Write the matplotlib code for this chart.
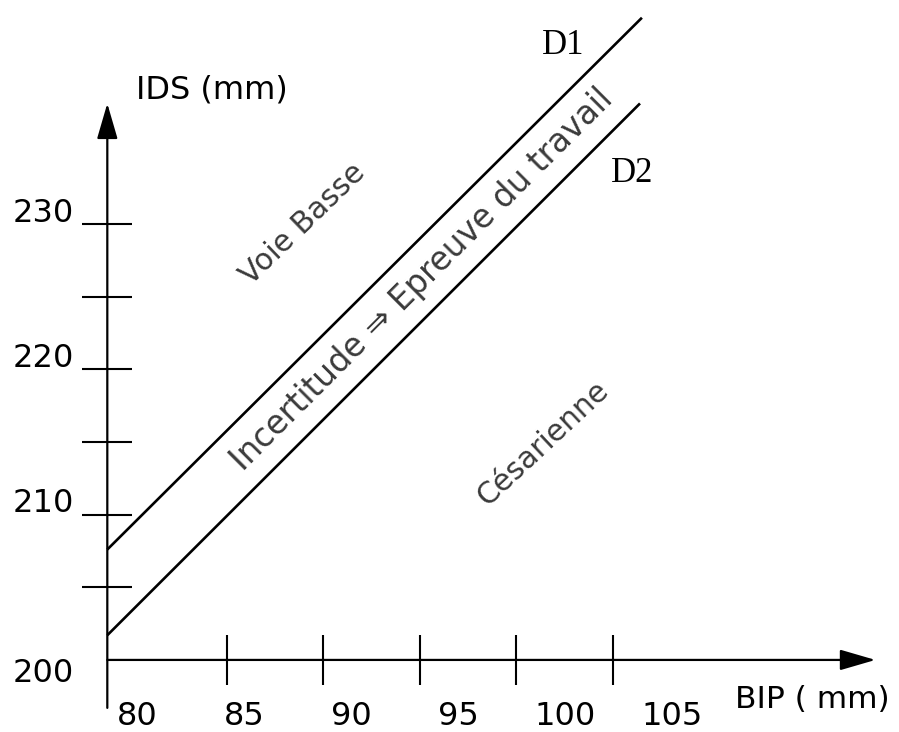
import numpy as np
import matplotlib.pyplot as plt

#------------------------------------------------------------------------------
# values
bip_d1 = [78.8, 106.5]
ids_d1 = [207.6, 244.2]
bip_d2 = [78.8, 106.4]
ids_d2 = [201.7, 238.3]

x_ticks = [85, 90, 95, 100, 105]
x_labels = [80, 85, 90, 95, 100, 105]
y_ticks = [205, 210, 215, 220, 225, 230]
y_labels = [200, 210, 220, 230]

axis_x = 78.8          # where the IDS axis stands on the BIP scale
axis_y = 200

#------------------------------------------------------------------------------
fig = plt.figure(figsize=(8.99, 7.32), dpi=100)
ax = fig.add_axes([0, 0, 1, 1])
ax.set_xlim(73.24, 119.82)
ax.set_ylim(195.04, 245.42)
ax.axis('off')

black = 'black'
sans = 'DejaVu Sans'

# axes with arrows
arrow = dict(arrowstyle='-|>,head_length=1.1,head_width=0.32', mutation_scale=20,
             lw=1.6, color=black, shrinkA=0, shrinkB=0)
ax.annotate('', xy=(118.6, axis_y), xytext=(axis_x, axis_y), arrowprops=arrow)
ax.annotate('', xy=(axis_x, 238.3), xytext=(axis_x, 196.7), arrowprops=arrow)

# ticks
ax.vlines(x_ticks, axis_y - 1.72, axis_y + 1.72, color=black, lw=1.5)
ax.hlines(y_ticks, axis_x - 1.3, axis_x + 1.3, color=black, lw=1.5)

# tick labels (the scan has them drift a bit to the right)
for v in x_labels:
    ax.text(80.34 + (v - 80) * 1.109, 196.08, str(v), fontsize=23, family=sans,
            ha='center', va='center')
for v in y_labels:
    off = 0.75 if v > axis_y else -0.9
    ax.text(77.07, v + off, str(v), fontsize=23, family=sans, ha='right', va='center')

ax.text(80.3, 239.2, 'IDS (mm)', fontsize=23, family=sans, ha='left', va='center')
ax.text(111.3, 197.3, 'BIP ( mm)', fontsize=22.5, family=sans, ha='left', va='center')

# limit lines
ax.plot(bip_d1, ids_d1, color=black, lw=1.9, solid_capstyle='butt')
ax.plot(bip_d2, ids_d2, color=black, lw=1.9, solid_capstyle='butt')
ax.text(102.4, 242.3, 'D1', fontsize=25, family='Liberation Serif', ha='center', va='center')
ax.text(106.0, 233.45, 'D2', fontsize=25, family='Liberation Serif', ha='center', va='center')

# zone labels
zone = dict(family=sans, color='#3a3a3a', ha='center', va='center',
            rotation_mode='anchor')
ax.text(88.94, 230.0, 'Voie Basse', fontsize=21.5, rotation=44, **zone)
ax.text(95.1, 226.2, 'Incertitude \u21d2 Epreuve du travail', fontsize=23.5,
        rotation=45, **zone)
ax.text(101.37, 214.9, 'C\u00e9sarienne', fontsize=21.5, rotation=43, **zone)

plt.savefig('out.png', dpi=100)
